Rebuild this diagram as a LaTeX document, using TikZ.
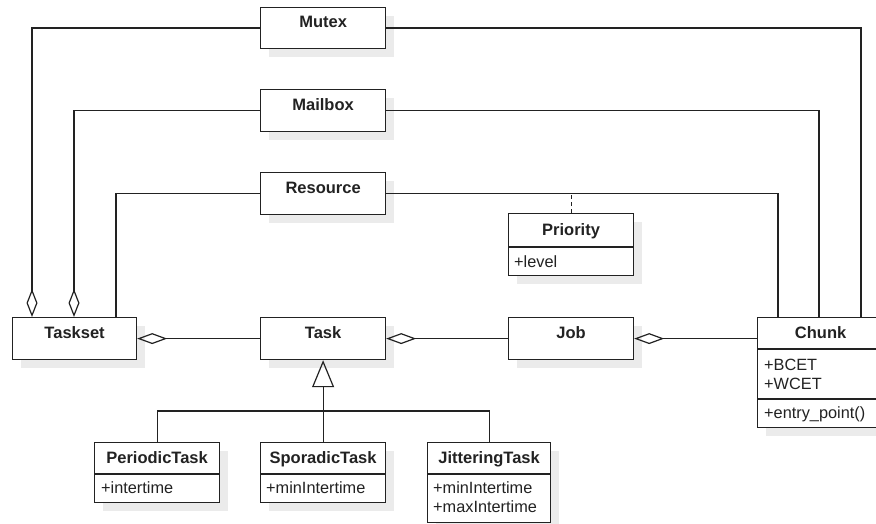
\documentclass[tikz,border=0pt]{standalone}
\usepackage{fontspec}
\setmainfont{Liberation Sans}
\usetikzlibrary{arrows.meta,shadows}
\definecolor{ink}{HTML}{222222}
\definecolor{shade}{HTML}{EBEBEB}
\begin{document}
\begin{tikzpicture}[x=1pt,y=-1pt,
  cls/.style={draw=ink, line width=1.2pt, fill=white, rectangle, inner sep=0pt, anchor=north west,
    drop shadow={shadow xshift=8.5pt, shadow yshift=-8.5pt, fill=shade, opacity=1, draw=none}},
  ttl/.style={anchor=base, inner sep=0pt, text=ink, font=\bfseries\fontsize{16.5}{19}\selectfont},
  attr/.style={anchor=base west, inner sep=0pt, text=ink, font=\fontsize{16.3}{19.5}\selectfont},
  link/.style={draw=ink, line width=1.2pt},
  aggh/.style={link, {Diamond[open,length=30pt,width=11pt]}-},
  aggv/.style={link, {Diamond[open,length=28pt,width=11pt]}-},
  gen/.style={link, -{Triangle[open,length=27pt,width=22pt]}},
]
\useasboundingbox (0,0) rectangle (876,524);
\clip (0,0) rectangle (876,524);

% class boxes
\node[cls, minimum width=125pt, minimum height=41pt] (mutex) at (260,7) {};
\node[cls, minimum width=125pt, minimum height=42pt] (mailbox) at (260,89) {};
\node[cls, minimum width=125pt, minimum height=42pt] (resource) at (260,172) {};
\node[cls, minimum width=125pt, minimum height=62pt] (priority) at (508,213) {};
\node[cls, minimum width=124pt, minimum height=42pt] (taskset) at (12,317) {};
\node[cls, minimum width=125pt, minimum height=42pt] (task) at (260,317) {};
\node[cls, minimum width=125pt, minimum height=42pt] (job) at (508,317) {};
\node[cls, minimum width=126pt, minimum height=110pt] (chunk) at (757,317) {};
\node[cls, minimum width=125pt, minimum height=60pt] (periodic) at (94,442) {};
\node[cls, minimum width=125pt, minimum height=60pt] (sporadic) at (260,442) {};
\node[cls, minimum width=123pt, minimum height=80pt] (jitter) at (427,442) {};

% compartment separators
\draw[link] ([yshift=-34pt]priority.north west) -- ([yshift=-34pt]priority.north east);
\draw[link] ([yshift=-32pt]chunk.north west) -- ([yshift=-32pt]chunk.north east);
\draw[link] ([yshift=-82pt]chunk.north west) -- ([yshift=-82pt]chunk.north east);
\draw[link] ([yshift=-32pt]periodic.north west) -- ([yshift=-32pt]periodic.north east);
\draw[link] ([yshift=-32pt]sporadic.north west) -- ([yshift=-32pt]sporadic.north east);
\draw[link] ([yshift=-32pt]jitter.north west) -- ([yshift=-32pt]jitter.north east);

% class names
\node[ttl] (mutex-t) at ([yshift=-21pt]mutex.north) {Mutex};
\node[ttl] (mailbox-t) at ([yshift=-21.5pt]mailbox.north) {Mailbox};
\node[ttl] (resource-t) at ([yshift=-21.5pt]resource.north) {Resource};
\node[ttl] (priority-t) at ([yshift=-22pt]priority.north) {Priority};
\node[ttl] (taskset-t) at ([yshift=-21.5pt]taskset.north) {Taskset};
\node[ttl] (task-t) at ([yshift=-21.5pt]task.north) {Task};
\node[ttl] (job-t) at ([yshift=-21.5pt]job.north) {Job};
\node[ttl] (chunk-t) at ([yshift=-21.5pt]chunk.north) {Chunk};
\node[ttl] (periodic-t) at ([yshift=-21.5pt]periodic.north) {PeriodicTask};
\node[ttl] (sporadic-t) at ([yshift=-21.5pt]sporadic.north) {SporadicTask};
\node[ttl] (jitter-t) at ([yshift=-21.5pt]jitter.north) {JitteringTask};

% attributes and operations
\node[attr] (priority-a) at ([xshift=6pt,yshift=-54pt]priority.north west) {+level};
\node[attr] (chunk-a1) at ([xshift=7pt,yshift=-53pt]chunk.north west) {+BCET};
\node[attr] (chunk-a2) at ([xshift=7pt,yshift=-72pt]chunk.north west) {+WCET};
\node[attr] (chunk-o) at ([xshift=7pt,yshift=-101pt]chunk.north west) {+entry\_point()};
\node[attr] (periodic-a) at ([xshift=7pt,yshift=-51pt]periodic.north west) {+intertime};
\node[attr] (sporadic-a) at ([xshift=6pt,yshift=-51pt]sporadic.north west) {+minIntertime};
\node[attr] (jitter-a1) at ([xshift=6pt,yshift=-51pt]jitter.north west) {+minIntertime};
\node[attr] (jitter-a2) at ([xshift=6pt,yshift=-70pt]jitter.north west) {+maxIntertime};

% aggregations into Taskset
\draw[aggv] ([xshift=20pt]taskset.north west) |- (mutex.west);
\draw[aggv] ([xshift=62pt]taskset.north west) |- (mailbox.west);
\draw[link] ([xshift=104pt]taskset.north west) |- (resource.west);

% associations with Chunk
\draw[link] (mutex.east) -| ([xshift=104pt]chunk.north west);
\draw[link] (mailbox.east) -| ([xshift=62pt]chunk.north west);
\draw[link] (resource.east) -| ([xshift=21pt]chunk.north west);
\draw[link, dashed, dash pattern=on 4pt off 3pt] (priority.north) -- (priority.north |- resource.east);

% aggregation chain
\draw[aggh] (taskset.east) -- (task.west);
\draw[aggh] (task.east) -- (job.west);
\draw[aggh] (job.east) -- (chunk.west |- job.east);

% generalisation
\coordinate (fork) at (322.5,411);
\draw[gen] (sporadic.north) -- (task.south);
\draw[link] (periodic.north) |- (fork) -| (jitter.north);
\end{tikzpicture}
\end{document}
